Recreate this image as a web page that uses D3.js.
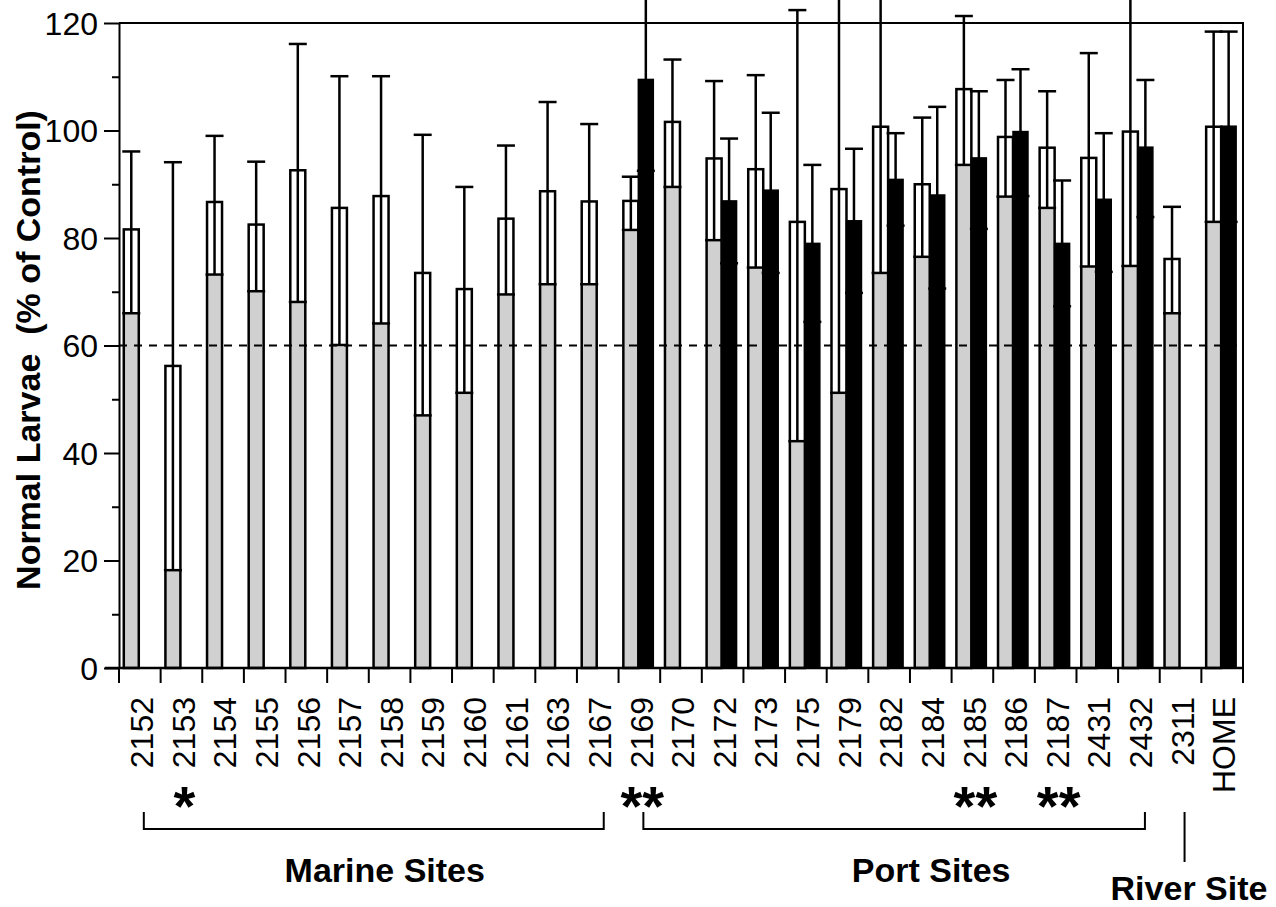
<!DOCTYPE html>
<html>
<head>
<meta charset="utf-8">
<script src="https://cdn.jsdelivr.net/npm/d3@7"></script>
<style>
  body { margin: 0; background: #fff; }
  svg { display: block; font-family: "Liberation Sans", Arial, sans-serif; }
</style>
</head>
<body>
<script>

const sites = ["2152", "2153", "2154", "2155", "2156", "2157", "2158", "2159", "2160", "2161", "2163", "2167",
  "2169", "2170", "2172", "2173", "2175", "2179", "2182", "2184", "2185", "2186", "2187", "2431", "2432",
  "2311", "HOME"];

// open (grey) bars: mean, lower and upper whisker
const greyMean = [81.6, 56.2, 86.7, 82.5, 92.6, 85.6, 87.8, 73.5, 70.5, 83.6, 88.7, 86.8,
  86.9, 101.6, 94.8, 92.8, 83.0, 89.1, 100.7, 90.0, 107.7, 98.8, 96.8, 94.9, 99.8, 76.1, 100.7];
const greyLow = [66.0, 18.2, 73.2, 70.1, 68.1, 60.1, 64.1, 47.0, 51.2, 69.5, 71.4, 71.4,
  81.5, 89.5, 79.6, 74.5, 42.2, 51.2, 73.5, 76.5, 93.6, 87.7, 85.6, 74.7, 74.8, 66.0, 83.0];
const greyHigh = [96.1, 94.1, 99.0, 94.2, 116.1, 110.1, 110.1, 99.2, 89.5, 97.2, 105.3, 101.2,
  91.4, 113.2, 109.2, 110.3, 122.4, 127.0, 128.0, 102.4, 121.3, 109.4, 107.3, 114.4, 124.8, 85.8, 118.4];

// solid (black) bars, null where the site has none
const blackMean = [null, null, null, null, null, null, null, null, null, null, null, null,
  109.5, null, 86.9, 88.9, 79.0, 83.2, 90.9, 88.0, 94.9, 99.8, 79.0, 87.2, 96.9, null, 100.8];
const blackLow = [null, null, null, null, null, null, null, null, null, null, null, null,
  92.5, null, 75.3, 73.5, 64.4, 69.8, 82.3, 70.6, 81.7, 87.8, 67.3, 73.7, 83.9, null, 83.0];
const blackHigh = [null, null, null, null, null, null, null, null, null, null, null, null,
  126.5, null, 98.5, 103.3, 93.6, 96.6, 99.5, 104.4, 107.3, 111.4, 90.7, 99.5, 109.4, null, 118.4];

const yTicks = [0, 20, 40, 60, 80, 100, 120];
const threshold = 60;

const starSites = ["2153", "2169", "2185", "2187"];
const starMarks = ["*", "**", "**", "**"];

const groupNames = ["Marine Sites", "Port Sites", "River Site"];
const groupFirst = ["2152", "2169", "2311"];
const groupLast = ["2167", "2432", "2311"];

const W = 1276, H = 907;
const plotL = 119, plotR = 1243, plotT = 23, plotB = 668;

const svg = d3.select("body").append("svg")
    .attr("width", W)
    .attr("height", H);

const x = d3.scaleBand().domain(sites).range([plotL, plotR]).padding(0);
const y = d3.scaleLinear().domain([0, 120]).range([plotB, plotT]);

const bw = x.bandwidth();
const barW = bw * 0.36;
const greyX = s => x(s) + bw * 0.115;
const blackX = s => greyX(s) + barW;
const mid = s => x(s) + bw / 2;
const capW = 18;

const rows = sites.map((s, i) => ({
  site: s,
  gm: greyMean[i], gl: greyLow[i], gh: greyHigh[i],
  bm: blackMean[i], bl: blackLow[i], bh: blackHigh[i]
}));

// grey bars, white above the lower whisker
const g = svg.append("g");
g.selectAll("rect.fill")
  .data(rows).join("rect")
    .attr("class", "fill")
    .attr("x", d => greyX(d.site))
    .attr("width", barW)
    .attr("y", d => y(d.gl))
    .attr("height", d => y(0) - y(d.gl))
    .attr("fill", "#d0d0d0");

g.selectAll("rect.outline")
  .data(rows).join("rect")
    .attr("class", "outline")
    .attr("x", d => greyX(d.site))
    .attr("width", barW)
    .attr("y", d => y(d.gm))
    .attr("height", d => y(0) - y(d.gm))
    .attr("fill", "none")
    .attr("stroke", "#000")
    .attr("stroke-width", 2.5);

const blacks = rows.filter(d => d.bm != null);
g.selectAll("rect.black")
  .data(blacks).join("rect")
    .attr("class", "black")
    .attr("x", d => blackX(d.site))
    .attr("width", barW)
    .attr("y", d => y(d.bm))
    .attr("height", d => y(0) - y(d.bm))
    .attr("fill", "#000")
    .attr("stroke", "#000")
    .attr("stroke-width", 1.5);

// error bars
function whisker(sel, cx, lo, hi) {
  sel.append("line")
      .attr("x1", cx).attr("x2", cx)
      .attr("y1", y(lo)).attr("y2", y(hi));
  sel.append("line")
      .attr("x1", cx - capW / 2).attr("x2", cx + capW / 2)
      .attr("y1", y(hi)).attr("y2", y(hi));
  sel.append("line")
      .attr("x1", cx - capW / 2).attr("x2", cx + capW / 2)
      .attr("y1", y(lo)).attr("y2", y(lo));
}

const err = svg.append("g").attr("stroke", "#000").attr("stroke-width", 2.5);
rows.forEach(d => {
  whisker(err, greyX(d.site) + barW / 2, d.gl, d.gh);
  if (d.bm != null) whisker(err, blackX(d.site) + barW / 2, d.bl, d.bh);
});

// dashed threshold
svg.append("line")
    .attr("x1", plotL).attr("x2", plotR)
    .attr("y1", y(threshold)).attr("y2", y(threshold))
    .attr("stroke", "#000")
    .attr("stroke-width", 2)
    .attr("stroke-dasharray", "8,7");

// frame
svg.append("path")
    .attr("d", `M${plotL},${plotT}H${plotR}V${plotB}`)
    .attr("fill", "none")
    .attr("stroke", "#000")
    .attr("stroke-width", 2);

// y axis
const yAxis = svg.append("g")
    .attr("transform", `translate(${plotL},0)`)
    .call(d3.axisLeft(y).tickValues(d3.range(0, 121, 10)).tickSize(7).tickSizeOuter(0).tickFormat(""));
yAxis.selectAll("line, path").attr("stroke", "#000").attr("stroke-width", 2);
yAxis.selectAll(".tick line").filter(d => d % 20 === 0).attr("x2", -15);

svg.append("g").selectAll("text")
  .data(yTicks).join("text")
    .attr("x", 98)
    .attr("y", d => y(d))
    .attr("dy", "0.36em")
    .attr("text-anchor", "end")
    .attr("font-size", 32)
    .text(d => d);

svg.append("text")
    .attr("transform", `translate(40,350) rotate(-90)`)
    .attr("text-anchor", "middle")
    .attr("font-size", 34)
    .attr("font-weight", "bold")
    .style("white-space", "pre")
    .text("Normal Larvae  (% of Control)");

// x axis
const xAxis = svg.append("g")
    .attr("transform", `translate(0,${plotB})`);
xAxis.append("line")
    .attr("x1", plotL - 14).attr("x2", plotR)
    .attr("stroke", "#000").attr("stroke-width", 2.5);
xAxis.selectAll("line.tick")
  .data(sites.concat([null])).join("line")
    .attr("class", "tick")
    .attr("x1", (d, i) => plotL + i * bw).attr("x2", (d, i) => plotL + i * bw)
    .attr("y1", 0).attr("y2", 15)
    .attr("stroke", "#000").attr("stroke-width", 2);

svg.append("g").selectAll("text")
  .data(sites).join("text")
    .attr("transform", d => `translate(${mid(d) + 2},697) rotate(-90)`)
    .attr("dy", "0.35em")
    .attr("text-anchor", "end")
    .attr("font-size", 32)
    .text(d => d);

// significance marks
svg.append("g").selectAll("text")
  .data(starSites).join("text")
    .attr("x", d => mid(d) + 3)
    .attr("y", 825)
    .attr("text-anchor", "middle")
    .attr("font-size", 56)
    .attr("font-weight", "bold")
    .text((d, i) => starMarks[i]);

// group brackets
const br = svg.append("g").attr("fill", "none").attr("stroke", "#000").attr("stroke-width", 2);
groupNames.forEach((name, i) => {
  const x0 = mid(groupFirst[i]) + 4;
  const x1 = mid(groupLast[i]) + 6;
  if (groupFirst[i] === groupLast[i]) {
    br.append("line").attr("x1", x1 - 2).attr("x2", x1 - 2).attr("y1", 812).attr("y2", 862);
  } else {
    br.append("path").attr("d", `M${x0},812V829H${x1}V812`);
  }
});

svg.append("g").selectAll("text")
  .data(groupNames).join("text")
    .attr("x", (d, i) => i === 2 ? 1189 : (mid(groupFirst[i]) + mid(groupLast[i])) / 2 + (i === 0 ? 16 : 42))
    .attr("y", (d, i) => i === 2 ? 900 : 882)
    .attr("text-anchor", "middle")
    .attr("font-size", 34)
    .attr("font-weight", "bold")
    .text(d => d);

</script>
</body>
</html>
